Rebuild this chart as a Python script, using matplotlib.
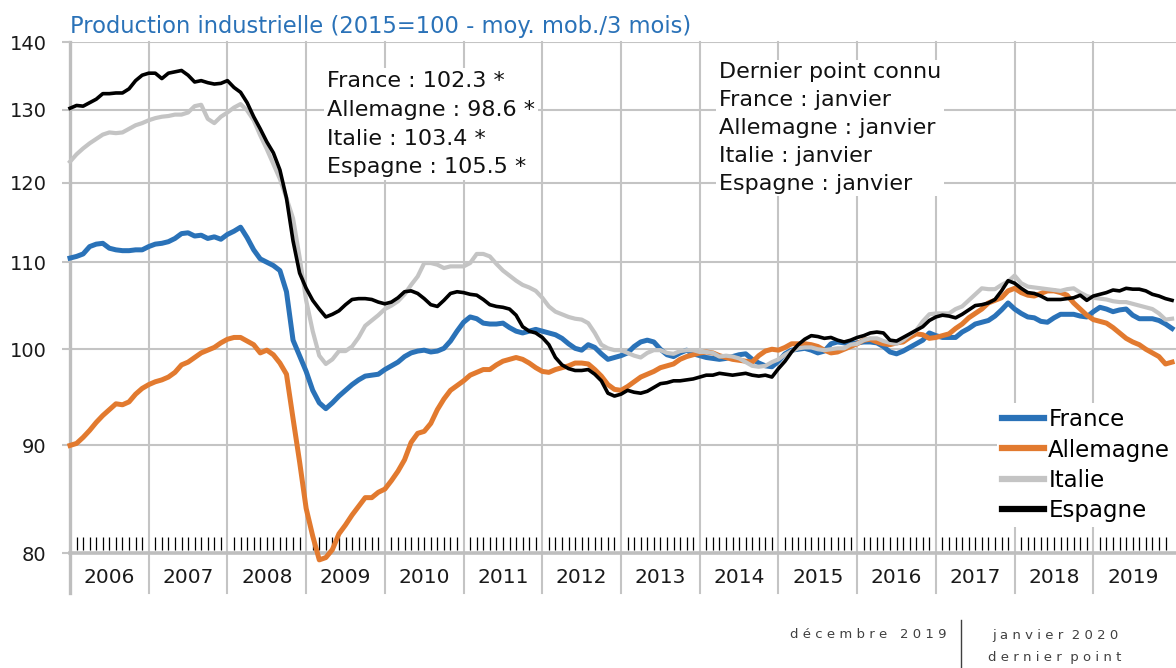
import matplotlib
matplotlib.use('Agg')
import numpy as np
import matplotlib.pyplot as plt
import matplotlib.transforms as mtransforms
from matplotlib.ticker import FixedLocator, NullLocator, FuncFormatter

# ====================================================================
# données : production industrielle, base 2015=100, moy. mob. 3 mois
# mensuel, janvier 2006 -> janvier 2020
# ====================================================================
france = [
    110.5, 110.7, 111.0, 111.9, 112.2, 112.3, 111.7, 111.5, 111.4, 111.4, 111.5, 111.5,  # 2006
    111.9, 112.2, 112.3, 112.5, 112.9, 113.5, 113.6, 113.2, 113.3, 112.9, 113.1, 112.8,  # 2007
    113.4, 113.8, 114.3, 113.0, 111.5, 110.4, 110.0, 109.6, 109.0, 106.5, 101.0, 99.3,   # 2008
    97.6, 95.6, 94.3, 93.7, 94.3, 95.0, 95.6, 96.2, 96.7, 97.1, 97.2, 97.3,              # 2009
    97.8, 98.2, 98.6, 99.2, 99.6, 99.8, 99.9, 99.7, 99.8, 100.1, 100.9, 102.0,           # 2010
    103.0, 103.6, 103.4, 102.9, 102.8, 102.8, 102.9, 102.4, 102.0, 101.8, 102.0, 102.2,  # 2011
    102.0, 101.8, 101.6, 101.2, 100.6, 100.1, 99.9, 100.5, 100.2, 99.5, 98.9, 99.1,      # 2012
    99.3, 99.6, 100.3, 100.8, 101.0, 100.8, 100.0, 99.4, 99.2, 99.6, 99.9, 99.5,         # 2013
    99.3, 99.1, 99.0, 98.9, 99.0, 99.2, 99.4, 99.5, 98.9, 98.5, 98.2, 98.1,              # 2014
    98.7, 99.5, 99.9, 100.0, 100.1, 99.9, 99.6, 99.8, 100.6, 100.8, 100.7, 100.6,        # 2015
    100.7, 100.8, 100.8, 100.7, 100.3, 99.7, 99.5, 99.8, 100.2, 100.6, 101.0, 101.8,     # 2016
    101.5, 101.3, 101.3, 101.3, 101.9, 102.3, 102.8, 103.0, 103.2, 103.7, 104.4, 105.2,  # 2017
    104.5, 104.0, 103.6, 103.5, 103.1, 103.0, 103.5, 103.9, 103.9, 103.9, 103.7, 103.6,  # 2018
    104.2, 104.7, 104.5, 104.2, 104.4, 104.5, 103.8, 103.4, 103.4, 103.4, 103.2, 102.8,  # 2019
    102.3]

allemagne = [
    90.0, 90.2, 90.8, 91.5, 92.3, 93.0, 93.6, 94.2, 94.1, 94.4, 95.2, 95.8,              # 2006
    96.2, 96.5, 96.7, 97.0, 97.5, 98.3, 98.6, 99.1, 99.6, 99.9, 100.2, 100.7,            # 2007
    101.1, 101.3, 101.3, 100.9, 100.5, 99.6, 99.9, 99.4, 98.5, 97.3, 92.7, 88.4,         # 2008
    84.0, 81.5, 79.4, 79.6, 80.3, 81.7, 82.5, 83.4, 84.2, 85.0, 85.0, 85.5,              # 2009
    85.8, 86.6, 87.5, 88.6, 90.3, 91.2, 91.4, 92.2, 93.6, 94.7, 95.6, 96.1,              # 2010
    96.6, 97.2, 97.5, 97.8, 97.8, 98.3, 98.7, 98.9, 99.1, 98.9, 98.5, 98.0,              # 2011
    97.6, 97.5, 97.8, 98.0, 98.2, 98.5, 98.5, 98.4, 97.8, 97.1, 96.2, 95.7,              # 2012
    95.6, 96.0, 96.5, 97.0, 97.3, 97.6, 98.0, 98.2, 98.4, 98.9, 99.2, 99.4,              # 2013
    99.6, 99.7, 99.6, 99.3, 99.1, 98.9, 98.8, 98.7, 98.6, 99.3, 99.8, 100.0,             # 2014
    99.9, 100.2, 100.6, 100.6, 100.6, 100.5, 100.3, 99.9, 99.6, 99.7, 100.0, 100.3,      # 2015
    100.6, 101.0, 101.1, 100.8, 100.6, 100.5, 100.7, 100.8, 101.3, 101.7, 101.6, 101.2,  # 2016
    101.3, 101.5, 101.7, 102.3, 102.8, 103.5, 104.0, 104.5, 105.2, 105.5, 105.8, 106.6,  # 2017
    106.9, 106.4, 106.1, 106.0, 106.3, 106.6, 106.6, 106.4, 106.1, 105.2, 104.5, 103.8,  # 2018
    103.3, 103.1, 102.9, 102.4, 101.8, 101.2, 100.8, 100.5, 100.0, 99.6, 99.2, 98.4,     # 2019
    98.6]

italie = [
    122.8, 123.8, 124.6, 125.3, 125.9, 126.5, 126.8, 126.7, 126.8, 127.3, 127.8, 128.1,  # 2006
    128.5, 128.8, 129.0, 129.1, 129.3, 129.3, 129.6, 130.5, 130.7, 128.7, 128.1, 129.0,  # 2007
    129.6, 130.3, 130.8, 129.9, 128.5, 126.4, 124.5, 122.5, 120.5, 118.0, 115.4, 110.6,  # 2008
    105.5, 102.0, 99.3, 98.4, 98.9, 99.8, 99.8, 100.3, 101.3, 102.6, 103.2, 103.8,       # 2009
    104.5, 104.9, 105.4, 106.2, 107.3, 108.3, 109.9, 109.9, 109.7, 109.3, 109.5, 109.5,  # 2010
    109.5, 109.9, 111.0, 111.0, 110.7, 109.8, 109.0, 108.4, 107.8, 107.3, 107.0, 106.6,  # 2011
    105.8, 104.8, 104.2, 103.9, 103.6, 103.4, 103.3, 102.9, 101.8, 100.5, 100.1, 99.9,   # 2012
    99.9, 99.6, 99.3, 99.1, 99.6, 99.9, 99.9, 99.6, 99.5, 99.8, 99.9, 99.9,              # 2013
    99.7, 99.7, 99.6, 99.2, 99.3, 99.2, 99.0, 98.6, 98.2, 98.1, 98.2, 98.6,              # 2014
    98.9, 99.4, 99.8, 100.1, 100.2, 100.2, 100.0, 99.9, 100.0, 100.1, 100.1, 100.5,      # 2015
    100.6, 101.0, 101.2, 101.2, 100.9, 100.7, 100.6, 101.0, 101.6, 102.1, 103.1, 103.9,  # 2016
    104.0, 104.0, 104.0, 104.5, 104.8, 105.5, 106.2, 106.9, 106.8, 106.8, 107.3, 107.7,  # 2017
    108.4, 107.5, 107.1, 107.0, 106.9, 106.8, 106.7, 106.6, 106.8, 106.9, 106.4, 106.0,  # 2018
    105.8, 105.7, 105.6, 105.4, 105.3, 105.3, 105.1, 104.9, 104.7, 104.5, 104.0, 103.3,  # 2019
    103.4]

espagne = [
    130.2, 130.6, 130.5, 131.0, 131.5, 132.3, 132.3, 132.4, 132.4, 133.0, 134.2, 135.0,  # 2006
    135.3, 135.3, 134.5, 135.3, 135.5, 135.7, 135.0, 134.0, 134.2, 133.9, 133.7, 133.8,  # 2007
    134.2, 133.2, 132.5, 131.0, 129.0, 127.3, 125.5, 124.0, 121.7, 118.0, 112.6, 108.7,  # 2008
    106.9, 105.5, 104.5, 103.6, 103.9, 104.3, 105.0, 105.6, 105.7, 105.7, 105.6, 105.3,  # 2009
    105.1, 105.3, 105.8, 106.5, 106.6, 106.3, 105.7, 105.0, 104.8, 105.5, 106.3, 106.5,  # 2010
    106.4, 106.2, 106.1, 105.6, 105.0, 104.8, 104.7, 104.5, 103.8, 102.5, 102.0, 101.8,  # 2011
    101.3, 100.5, 99.1, 98.3, 97.9, 97.7, 97.7, 97.8, 97.3, 96.6, 95.3, 95.0,            # 2012
    95.2, 95.6, 95.4, 95.3, 95.5, 95.9, 96.3, 96.4, 96.6, 96.6, 96.7, 96.8,              # 2013
    97.0, 97.2, 97.2, 97.4, 97.3, 97.2, 97.3, 97.4, 97.2, 97.1, 97.2, 97.0,              # 2014
    97.9, 98.7, 99.7, 100.5, 101.1, 101.5, 101.4, 101.2, 101.3, 101.0, 100.8, 101.0,     # 2015
    101.3, 101.5, 101.8, 101.9, 101.8, 101.0, 100.9, 101.3, 101.7, 102.1, 102.5, 103.2,  # 2016
    103.6, 103.8, 103.7, 103.5, 103.9, 104.4, 104.9, 105.0, 105.2, 105.6, 106.6, 107.8,  # 2017
    107.5, 106.9, 106.4, 106.3, 106.0, 105.6, 105.6, 105.6, 105.7, 105.8, 106.1, 105.5,  # 2018
    106.0, 106.2, 106.4, 106.7, 106.6, 106.9, 106.8, 106.8, 106.6, 106.2, 106.0, 105.7,  # 2019
    105.5]

series_labels = ['France', 'Allemagne', 'Italie', 'Espagne']
series_values = [france, allemagne, italie, espagne]
years = list(range(2006, 2020))
yticks = [80, 90, 100, 110, 120, 130, 140]

derniers = ["France : 102.3 *", "Allemagne : 98.6 *", "Italie : 103.4 *", "Espagne : 105.5 *"]
connu = ["Dernier point connu", "France : janvier", "Allemagne : janvier",
         "Italie : janvier", "Espagne : janvier"]

# ====================================================================
# style
# ====================================================================
colors = ['#2A72B8', '#E27A2F', '#C4C4C4', '#000000']
widths = [3.6, 3.6, 3.0, 2.6]
grid_c = '#C4C4C4'
axis_c = '#BEBEBE'
blue_title = '#2A72B8'

W, H = 1176, 668
fig = plt.figure(figsize=(W / 100, H / 100), dpi=100)
ax = fig.add_axes([70 / W, 115 / H, 1106 / W, 511 / H])

ax.set_yscale('log')
ax.set_ylim(80, 140)
ax.set_xlim(2006, 2020.05)
ax.yaxis.set_major_locator(FixedLocator(yticks))
ax.yaxis.set_minor_locator(NullLocator())
ax.yaxis.set_major_formatter(FuncFormatter(lambda v, p: f'{v:.0f}'))
ax.set_xticks([])
ax.tick_params(axis='y', length=5.8, width=1.5, color=grid_c,
               labelsize=14, pad=11, labelcolor='#1a1a1a')

for s in ['top', 'right', 'left']:
    ax.spines[s].set_visible(False)
ax.spines['bottom'].set_color(axis_c)
ax.spines['bottom'].set_linewidth(2.6)

# grille horizontale
for v in yticks[1:]:
    ax.axhline(v, color=grid_c, lw=1.5, zorder=1)

# grille verticale (limites d'années), prolongée sous l'axe
trans = mtransforms.blended_transform_factory(ax.transData, ax.transAxes)
for yr in years[1:]:
    ax.plot([yr, yr], [-0.078, 1], color=grid_c, lw=1.5, transform=trans,
            clip_on=False, zorder=1)
ax.plot([2006, 2006], [-0.078, 1], color=axis_c, lw=2.4, transform=trans,
        clip_on=False, zorder=1)

# petits traits mensuels
month_x = [yr + m / 12 for yr in years for m in range(1, 12)]
ax.vlines(month_x, 0.006, 0.031, transform=trans, color='k', lw=0.9, zorder=2)

# années
for yr in years:
    ax.text(yr + 0.5, -0.047, str(yr), transform=trans, ha='center', va='center',
            fontsize=14.5, color='#1a1a1a')

# courbes
x = 2006 + np.arange(len(france)) / 12
for lab, vals, c, lw in zip(series_labels, series_values, colors, widths):
    ax.plot(x, vals, color=c, lw=lw, label=lab, clip_on=False, zorder=3,
            solid_joinstyle='round')

# légende
leg = ax.legend(loc='lower right', bbox_to_anchor=(1.0, 0.05), fontsize=16.5,
                frameon=True, fancybox=False, framealpha=1, edgecolor='none',
                handlelength=1.8, handletextpad=0.2, labelspacing=0.31,
                borderpad=0.25, borderaxespad=0.0)
leg.set_zorder(5)
for h in leg.get_lines():
    h.set_linewidth(4.5)

# encadrés de texte
ax.text(0.2324, 0.944, "\n".join(derniers), transform=ax.transAxes,
        fontsize=16, va='top', ha='left', linespacing=1.56, color='#111111',
        bbox=dict(facecolor='white', edgecolor='none', pad=2), zorder=5)
ax.text(0.5868, 0.960, "\n".join(connu), transform=ax.transAxes,
        fontsize=16, va='top', ha='left', linespacing=1.49, color='#111111',
        bbox=dict(facecolor='white', edgecolor='none', pad=2), zorder=5)

# titre
fig.text(70 / W, 1 - 27 / H, "Production industrielle (2015=100 - moy. mob./3 mois)",
         color=blue_title, fontsize=16.3, ha='left', va='center')

# pied
fig.text(947 / W, 1 - 635 / H, "d é c e m b r e   2 0 1 9", fontsize=9.5,
         color='#404040', ha='right', va='center')
fig.add_artist(plt.Line2D([961 / W, 961 / W], [0, 1 - 620 / H], color='#404040',
                          lw=1.0, transform=fig.transFigure))
fig.text(1055 / W, 1 - 635 / H, "j a n v i e r  2 0 2 0", fontsize=9.5,
         color='#404040', ha='center', va='center')
fig.text(1055 / W, 1 - 658 / H, "d e r n i e r  p o i n t", fontsize=9.5,
         color='#404040', ha='center', va='center')

fig.savefig('out.png', dpi=100)
